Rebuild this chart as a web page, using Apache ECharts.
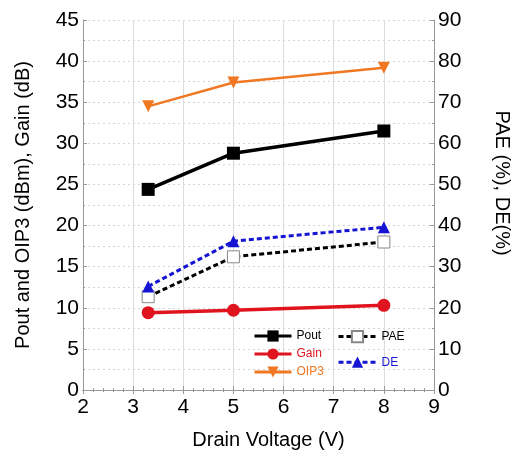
<!DOCTYPE html>
<html>
<head>
<meta charset="utf-8">
<script src="https://cdn.jsdelivr.net/npm/echarts@6/dist/echarts.min.js"></script>
<style>
  html, body { margin: 0; padding: 0; background: #fff; }
  #chart { width: 515px; height: 460px; }
</style>
</head>
<body>
<div id="chart"></div>
<script>
// 数据
const voltage = [3.3, 5, 8]
const pout = [24.4, 28.8, 31.5]
const gain = [9.4, 9.7, 10.3]
const oip3 = [34.5, 37.4, 39.2]
const pae = [22.7, 32.4, 36.0]
const de = [25.2, 36.2, 39.6]

const xTicks = [2, 3, 4, 5, 6, 7, 8, 9]
const leftTicks = [0, 5, 10, 15, 20, 25, 30, 35, 40, 45]
const rightTicks = [0, 10, 20, 30, 40, 50, 60, 70, 80, 90]

const pairs = (ys) => voltage.map((v, i) => [v, ys[i]])

const font = 'Liberation Sans, Arial, sans-serif'
const axisColor = '#999'

const chart = echarts.init(document.getElementById('chart'))

const yBase = {
  type: 'value',
  nameLocation: 'middle',
  axisLine: { show: true, lineStyle: { color: axisColor, width: 1 } },
  axisTick: { show: true, inside: true, length: 4, lineStyle: { color: axisColor } },
  minorTick: { show: true, splitNumber: 2, length: 2, lineStyle: { color: axisColor } },
  axisLabel: { color: '#000', fontSize: 21, fontFamily: font, margin: 4 },
  nameTextStyle: { color: '#000', fontSize: 20, fontFamily: font }
}

chart.setOption({
  animation: false,
  grid: { left: 83, right: 81, top: 20, bottom: 70, outerBoundsMode: 'none' },
  xAxis: [{
    type: 'value',
    min: xTicks[0],
    max: xTicks[xTicks.length - 1],
    interval: 1,
    name: 'Drain Voltage (V)',
    nameLocation: 'middle',
    nameGap: 40,
    nameTextStyle: { color: '#000', fontSize: 20, fontFamily: font, padding: [0, 0, 0, 20] },
    axisLine: { show: true, lineStyle: { color: axisColor, width: 1 } },
    axisTick: { show: true, inside: true, length: 4, lineStyle: { color: axisColor } },
    minorTick: { show: true, splitNumber: 5, length: 2, lineStyle: { color: axisColor } },
    axisLabel: { color: '#000', fontSize: 21, fontFamily: font, margin: 7 },
    splitLine: { show: true, lineStyle: { color: '#dcdcdc', width: 1 } }
  }, {
    type: 'value',
    position: 'top',
    min: xTicks[0],
    max: xTicks[xTicks.length - 1],
    interval: 1,
    axisLine: { show: true, lineStyle: { color: axisColor, width: 1 } },
    axisTick: { show: true, inside: true, length: 4, lineStyle: { color: axisColor } },
    minorTick: { show: true, splitNumber: 5, length: 2, lineStyle: { color: axisColor } },
    axisLabel: { show: false },
    splitLine: { show: false }
  }],
  yAxis: [Object.assign({}, yBase, {
    position: 'left',
    min: leftTicks[0],
    max: leftTicks[leftTicks.length - 1],
    interval: 5,
    name: 'Pout and OIP3 (dBm), Gain (dB)',
    nameGap: 50,
    nameRotate: 90,
    splitLine: { show: true, lineStyle: { color: '#d4d4d4', type: [2, 3] } },
    minorSplitLine: { show: true, lineStyle: { color: '#d4d4d4', type: [2, 3] } }
  }), Object.assign({}, yBase, {
    position: 'right',
    min: rightTicks[0],
    max: rightTicks[rightTicks.length - 1],
    interval: 10,
    name: 'PAE (%), DE(%)',
    nameGap: 58,
    nameRotate: -90,
    nameTextStyle: { color: '#000', fontSize: 20, fontFamily: font, padding: [0, 44, 0, 0] },
    splitLine: { show: false }
  })],
  legend: [{
    orient: 'vertical',
    left: 248,
    top: 325,
    itemWidth: 37,
    itemHeight: 14,
    itemGap: 6,
    lineStyle: { width: 3 },
    textStyle: { fontSize: 12, fontFamily: font },
    data: [
      { name: 'Pout', textStyle: { color: '#000' } },
      { name: 'Gain', textStyle: { color: '#e0141e' } },
      { name: 'OIP3', textStyle: { color: '#f07822' } }
    ]
  }, {
    orient: 'vertical',
    left: 332,
    top: 325,
    itemWidth: 38,
    itemHeight: 14,
    itemGap: 13,
    lineStyle: { width: 3 },
    textStyle: { fontSize: 12, fontFamily: font },
    data: [
      { name: 'PAE', textStyle: { color: '#000' } },
      { name: 'DE', textStyle: { color: '#1414d2' } }
    ]
  }],
  series: [{
    name: 'OIP3',
    type: 'line',
    data: pairs(oip3),
    symbol: 'triangle',
    symbolRotate: 180,
    symbolSize: 12,
    lineStyle: { color: '#f07822', width: 2.5 },
    itemStyle: { color: '#f07822' }
  }, {
    name: 'Gain',
    type: 'line',
    data: pairs(gain),
    symbol: 'circle',
    symbolSize: 13,
    lineStyle: { color: '#e0141e', width: 3.5 },
    itemStyle: { color: '#e0141e' }
  }, {
    name: 'PAE',
    type: 'line',
    yAxisIndex: 1,
    data: pairs(pae),
    symbol: 'rect',
    symbolSize: 12,
    lineStyle: { color: '#000', width: 3, type: [5, 3] },
    itemStyle: { color: '#fff', borderColor: '#888', borderWidth: 1 }
  }, {
    name: 'DE',
    type: 'line',
    yAxisIndex: 1,
    data: pairs(de),
    symbol: 'triangle',
    symbolSize: 12,
    lineStyle: { color: '#1414d2', width: 3, type: [5, 3] },
    itemStyle: { color: '#1414d2' }
  }, {
    name: 'Pout',
    type: 'line',
    data: pairs(pout),
    symbol: 'rect',
    symbolSize: 13,
    lineStyle: { color: '#000', width: 3.5 },
    itemStyle: { color: '#000' }
  }]
})
</script>
</body>
</html>
